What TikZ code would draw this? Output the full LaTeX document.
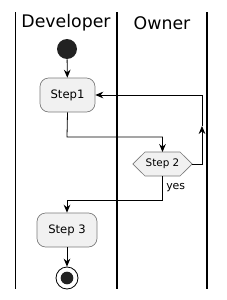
\documentclass[tikz,border=0pt]{standalone}
\usepackage{fontspec}
\setmainfont{DejaVu Sans}
\usetikzlibrary{arrows.meta}
\definecolor{boxfill}{HTML}{F1F1F1}
\definecolor{dotfill}{HTML}{222222}
\definecolor{boxline}{HTML}{7A7A7A}
\tikzset{
  lane/.style={line width=1.1pt,black},
  lanetitle/.style={font=\fontsize{13}{15}\selectfont,inner sep=0pt},
  actbox/.style={draw=boxline,fill=boxfill,rounded corners=6.5pt,line width=0.5pt,
     minimum height=25.5pt,inner xsep=0pt,font=\fontsize{8.7}{10}\selectfont},
  flow/.style={line width=0.6pt,-{Stealth[length=6pt,width=5pt,inset=2pt]}},
  startdot/.style={circle,fill=dotfill,minimum size=15pt,inner sep=0pt},
  smalltext/.style={inner sep=0pt,font=\fontsize{7.8}{9}\selectfont},
}
\begin{document}
\begin{tikzpicture}[x=0.75pt,y=-0.75pt]
\useasboundingbox (0,0) rectangle (227,300);
% lanes
\draw[lane] (15.5,12) -- (15.5,289);
\draw[lane] (117,12) -- (117,289);
\draw[lane] (207,12) -- (207,289);
\node[lanetitle] (tdev) at (66,23) {Developer};
\node[lanetitle] (town) at (162,23) {Owner};
% nodes
\node[startdot] (start) at (67,49) {};
\node[actbox,minimum width=41.25pt] (s1) at (67.5,95) {Step1};
\node[smalltext,minimum width=44pt,minimum height=18pt] (s2) at (162.5,164) {};
\draw[draw=boxline,fill=boxfill,line width=0.5pt]
  (s2.west) -- (145,152) -- (180,152) -- (s2.east) -- (180,176) -- (145,176) -- cycle;
\node[smalltext] (s2t) at (s2) {Step 2};
\node[actbox,minimum width=45pt] (s3) at (67,230) {Step 3};
\node[circle,draw=black,line width=0.6pt,fill=white,minimum size=16.5pt,inner sep=0pt] (end) at (67,278) {};
\node[circle,fill=dotfill,minimum size=9.5pt,inner sep=0pt] (endin) at (end) {};
% coordinates
\coordinate (c1) at (67,137);
\coordinate (c2) at (162.5,137);
\coordinate (c3) at (202,164);
\coordinate (c4) at (202,126);
\coordinate (c5) at (202,95);
\coordinate (c6) at (162.5,200);
\coordinate (c7) at (67,200);
% connectors
\draw[flow] (start) -- (s1);
\draw[flow] (s1.south) -- (c1) -- (c2) -- (s2.north |- 0,152);
\draw[flow] (s2.east) -- (c3) -- (c4);
\draw[flow] (c4) -- (c5) -- (s1.east);
\draw[flow] (s2.south |- 0,176) -- (c6) -- (c7) -- (s3.north);
\node[smalltext,font=\fontsize{8.2}{9}\selectfont,anchor=west] (yes) at (166,188) {yes};
\draw[flow] (s3.south) -- (end.north);
\end{tikzpicture}
\end{document}
